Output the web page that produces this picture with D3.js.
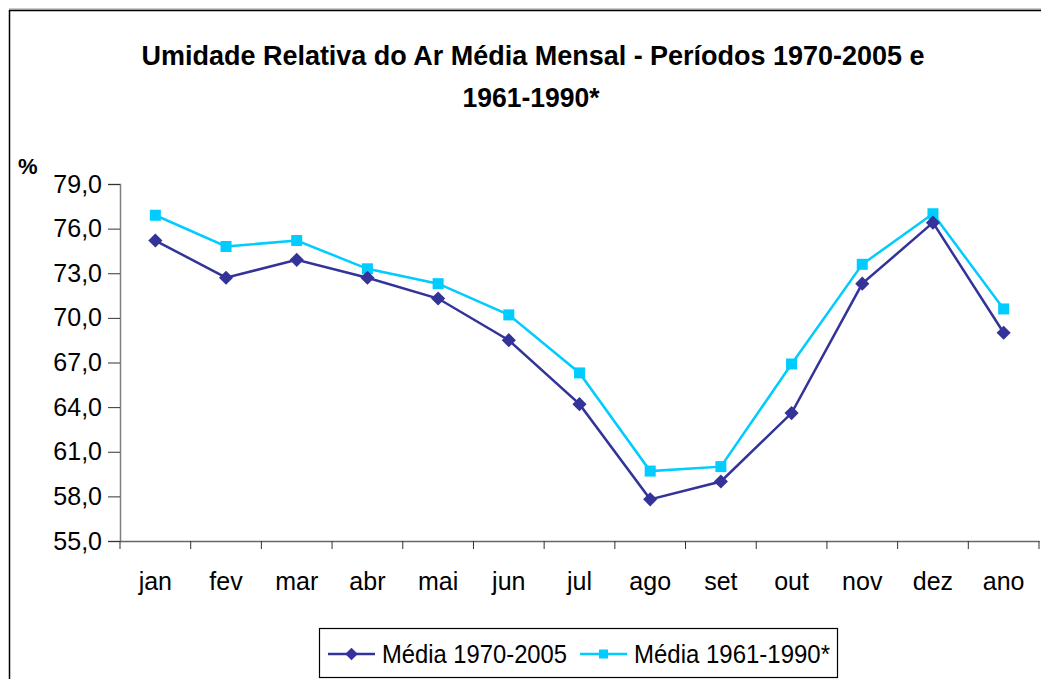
<!DOCTYPE html>
<html>
<head>
<meta charset="utf-8">
<script src="https://cdn.jsdelivr.net/npm/d3@7"></script>
<style>
  body { margin: 0; background: #fff; }
  svg { display: block; font-family: "Liberation Sans", Arial, sans-serif; }
</style>
</head>
<body>
<svg id="chart" width="1041" height="679"></svg>
<script>
var months = ["jan", "fev", "mar", "abr", "mai", "jun", "jul", "ago", "set", "out", "nov", "dez", "ano"];
var media1970 = [75.2, 72.7, 73.9, 72.7, 71.3, 68.5, 64.2, 57.8, 59.0, 63.6, 72.3, 76.4, 69.0];
var media1961 = [76.9, 74.8, 75.2, 73.3, 72.3, 70.2, 66.3, 59.7, 60.0, 66.9, 73.6, 77.0, 70.6];
var yTicks = [55, 58, 61, 64, 67, 70, 73, 76, 79];
var seriesNames = ["Média 1970-2005", "Média 1961-1990*"];

var svg = d3.select("#chart");

// outer chart frame
svg.append("line").attr("x1", 9).attr("x2", 1041).attr("y1", 9).attr("y2", 9)
    .attr("stroke", "#999").attr("stroke-width", 1);
svg.append("rect")
    .attr("x", 9.5).attr("y", 10.5).attr("width", 1040).attr("height", 680)
    .attr("fill", "none").attr("stroke", "#000").attr("stroke-width", 1.5);

// title
var title = svg.append("text")
    .attr("text-anchor", "middle")
    .attr("font-weight", "bold")
    .attr("font-size", 27)
    .attr("fill", "#000");
title.append("tspan").attr("x", 533).attr("y", 65)
    .attr("textLength", 783).attr("lengthAdjust", "spacingAndGlyphs")
    .text("Umidade Relativa do Ar Média Mensal - Períodos 1970-2005 e");
title.append("tspan").attr("x", 531).attr("y", 107)
    .attr("textLength", 137).attr("lengthAdjust", "spacingAndGlyphs")
    .text("1961-1990*");

var x = d3.scaleBand().domain(months).range([120, 1039]);
var y = d3.scaleLinear().domain([55, 79]).range([541, 184]);

// y axis
var yAxis = svg.append("g")
    .attr("transform", "translate(120,0)")
    .call(d3.axisLeft(y).tickValues(yTicks).tickSize(12).tickPadding(6)
        .tickFormat(function(d) { return d3.format(".1f")(d).replace(".", ","); }));
yAxis.select(".domain").attr("stroke", "#808080").attr("stroke-width", 1.5);
yAxis.selectAll(".tick line").attr("stroke", "#333");
yAxis.selectAll(".tick text").attr("font-size", 25).attr("fill", "#000")
    .attr("font-family", "Liberation Sans, Arial, sans-serif");

svg.append("text").attr("x", 18).attr("y", 174)
    .attr("font-weight", "bold").attr("font-size", 22).text("%");

// x axis
var xAxis = svg.append("g")
    .attr("transform", "translate(0,541)")
    .call(d3.axisBottom(x).tickSize(0).tickPadding(31));
xAxis.select(".domain").attr("stroke", "#666").attr("stroke-width", 1.5);
xAxis.selectAll(".tick text").attr("font-size", 25).attr("fill", "#000")
    .attr("font-family", "Liberation Sans, Arial, sans-serif");
// category separators
xAxis.selectAll(".sep")
    .data(months.concat(["end"]))
    .enter().append("line")
    .attr("x1", function(d, i) { return 120 + i * x.bandwidth(); })
    .attr("x2", function(d, i) { return 120 + i * x.bandwidth(); })
    .attr("y1", 0).attr("y2", 8)
    .attr("stroke", "#333").attr("stroke-width", 1);

function cx(d, i) { return x(months[i]) + x.bandwidth() / 2; }

var line = d3.line()
    .x(function(d, i) { return cx(d, i); })
    .y(function(d) { return y(d); });

// series 1961-1990 (cyan squares)
svg.append("path").datum(media1961)
    .attr("d", line).attr("fill", "none")
    .attr("stroke", "#00CCFF").attr("stroke-width", 2.5);
svg.selectAll(".sq").data(media1961).enter().append("rect")
    .attr("x", function(d, i) { return cx(d, i) - 5.5; })
    .attr("y", function(d) { return y(d) - 5.5; })
    .attr("width", 11).attr("height", 11)
    .attr("fill", "#00CCFF");

// series 1970-2005 (navy diamonds)
svg.append("path").datum(media1970)
    .attr("d", line).attr("fill", "none")
    .attr("stroke", "#333399").attr("stroke-width", 2.5);
svg.selectAll(".dm").data(media1970).enter().append("path")
    .attr("d", d3.symbol().type(d3.symbolSquare).size(100))
    .attr("transform", function(d, i) { return "translate(" + cx(d, i) + "," + y(d) + ") rotate(45)"; })
    .attr("fill", "#333399");

// legend
var legend = svg.append("g");
legend.append("rect")
    .attr("x", 319.5).attr("y", 628.5).attr("width", 518).attr("height", 49)
    .attr("fill", "#fff").attr("stroke", "#000").attr("stroke-width", 1.2);

var legendItems = [
  { name: seriesNames[0], color: "#333399", x0: 328, tx: 382, tw: 185, mark: "diamond" },
  { name: seriesNames[1], color: "#00CCFF", x0: 580, tx: 634, tw: 196, mark: "square" }
];
legendItems.forEach(function(it) {
  legend.append("line").attr("x1", it.x0).attr("x2", it.x0 + 47)
      .attr("y1", 654).attr("y2", 654)
      .attr("stroke", it.color).attr("stroke-width", 2.5);
  if (it.mark === "diamond") {
    legend.append("path")
        .attr("d", d3.symbol().type(d3.symbolSquare).size(80))
        .attr("transform", "translate(" + (it.x0 + 23.5) + ",654) rotate(45)")
        .attr("fill", it.color);
  } else {
    legend.append("rect").attr("x", it.x0 + 19).attr("y", 649.5)
        .attr("width", 9).attr("height", 9).attr("fill", it.color);
  }
  legend.append("text").attr("x", it.tx).attr("y", 663)
      .attr("font-size", 25).attr("fill", "#000")
      .attr("textLength", it.tw).attr("lengthAdjust", "spacingAndGlyphs")
      .text(it.name);
});
</script>
</body>
</html>
